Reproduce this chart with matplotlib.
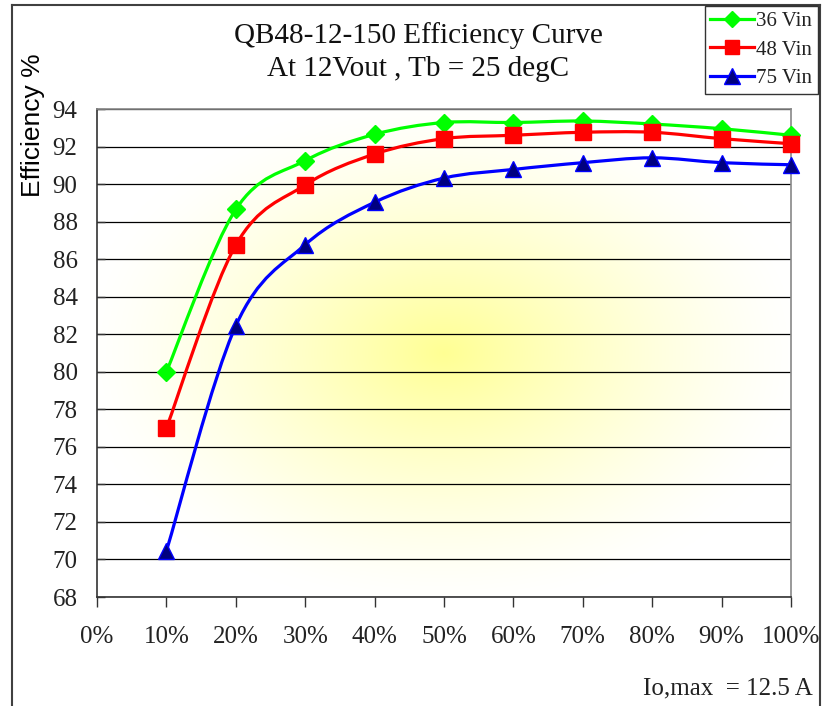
import numpy as np
import matplotlib
matplotlib.use("Agg")
import matplotlib.pyplot as plt
from matplotlib.path import Path
from matplotlib.patches import PathPatch
from matplotlib.lines import Line2D

# load (% of Io,max) and efficiency readings
load_pct = [10, 20, 30, 40, 50, 60, 70, 80, 90, 100]
eff_36vin = [80.0, 88.65, 91.25, 92.65, 93.28, 93.28, 93.36, 93.2, 92.95, 92.6]
eff_48vin = [77.0, 86.75, 89.95, 91.6, 92.42, 92.6, 92.76, 92.76, 92.42, 92.15]
eff_75vin = [70.45, 82.45, 86.77, 89.03, 90.32, 90.78, 91.14, 91.4, 91.14, 91.03]

series_labels = ['36 Vin', '48 Vin', '75 Vin']
x_ticks = list(range(0, 101, 10))
x_ticklabels = ['%d%%' % v for v in x_ticks]
y_ticks = list(range(68, 95, 2))

serif = 'Liberation Serif'
W, H = 823, 706


def smooth_path(xs, ys):
    # Excel style smoothed line: cubic bezier through the points
    pts = np.column_stack([xs, ys]).astype(float)
    n = len(pts)
    verts = [pts[0]]
    codes = [Path.MOVETO]
    for i in range(n - 1):
        p_prev = pts[i - 1] if i > 0 else pts[i]
        p_next = pts[i + 2] if i + 2 < n else pts[i + 1]
        c1 = pts[i] + (pts[i + 1] - p_prev) / 6.0
        c2 = pts[i + 1] - (p_next - pts[i]) / 6.0
        verts += [c1, c2, pts[i + 1]]
        codes += [Path.CURVE4] * 3
    return Path(verts, codes)


fig = plt.figure(figsize=(W / 100, H / 100), dpi=100)
fig.patch.set_facecolor('white')
ax = fig.add_axes([97 / W, 1 - 597 / H, (791 - 97) / W, (597 - 109) / H])

# radial yellow glow in plot area
gx, gy = np.meshgrid(np.linspace(-1, 1, 400), np.linspace(-1, 1, 400))
r = np.sqrt(gx ** 2 + gy ** 2) / 1.05
w = np.clip(1 - r, 0, 1) ** 1.35
img = np.ones((400, 400, 3))
img[..., 2] = 1 - w * 0.42
ax.imshow(img, extent=(0, 100, 68, 94), aspect='auto', zorder=-1,
          interpolation='bicubic', origin='lower')

ax.set_xlim(0, 100)
ax.set_ylim(68, 94)
ax.set_xticks(x_ticks)
ax.set_xticklabels(x_ticklabels)
ax.set_yticks(y_ticks)
ax.yaxis.grid(True, color='black', lw=0.9)
ax.set_axisbelow(True)

for lab in ax.get_xticklabels() + ax.get_yticklabels():
    lab.set_fontfamily(serif)
    lab.set_fontsize(18)
    lab.set_color('#222222')
ax.tick_params(axis='x', direction='out', length=7, width=1, color='#333333', pad=14)
ax.tick_params(axis='y', direction='in', length=6, width=1, color='#333333', pad=14)

ax.spines['top'].set_color('#888888')
ax.spines['right'].set_color('#888888')
ax.spines['left'].set_color('#333333')
ax.spines['bottom'].set_color('#333333')
for s in ax.spines.values():
    s.set_linewidth(1.2)

styles = [
    dict(color='#00ff00', marker='D', ms=9, mfc='#00ff00', mec='#00ff00'),
    dict(color='#ff0000', marker='s', ms=11, mfc='#ff0000', mec='#ff0000'),
    dict(color='#0000ff', marker='^', ms=12, mfc='#000080', mec='#0000ff'),
]
handles = []
for ys, st, lab in zip([eff_36vin, eff_48vin, eff_75vin], styles, series_labels):
    ax.add_patch(PathPatch(smooth_path(load_pct, ys), fill=False,
                           edgecolor=st['color'], lw=2.3, zorder=2,
                           capstyle='round', joinstyle='round'))
    ax.plot(load_pct, ys, ls='none', marker=st['marker'], ms=st['ms'],
            mfc=st['mfc'], mec=st['mec'], mew=1, zorder=3, clip_on=False)
    handles.append(Line2D([], [], color=st['color'], lw=2.3, marker=st['marker'],
                          ms=st['ms'] - 1, mfc=st['mfc'], mec=st['mec'], mew=1))

leg = fig.legend(handles, series_labels, loc='upper right',
                 bbox_to_anchor=(818 / W, 1 - 6 / H), bbox_transform=fig.transFigure,
                 prop={'family': serif, 'size': 15}, frameon=True, fancybox=False,
                 edgecolor='black', borderaxespad=0, handlelength=2.1,
                 handletextpad=0.1, labelspacing=0.42, borderpad=0.28)
leg.get_frame().set_linewidth(1.0)
for t in leg.get_texts():
    t.set_color('#222222')

# titles and notes
fig.text(418 / W, 1 - 43 / H, 'QB48-12-150 Efficiency Curve', ha='center',
         va='baseline', family=serif, size=21, color='#111111')
fig.text(418 / W, 1 - 76 / H, 'At 12Vout , Tb = 25 degC', ha='center',
         va='baseline', family=serif, size=21, color='#111111')
fig.text(33 / W, 1 - 197 / H, 'Efficiency %', rotation=90, ha='center',
         va='bottom', family='Liberation Sans', size=19, color='black')
fig.text(813 / W, 1 - 694 / H, 'Io,max  = 12.5 A', ha='right', va='baseline',
         family=serif, size=18, color='#222222')

# outer chart frame
frame_kw = dict(color='#404040', lw=1.5, transform=fig.transFigure)
fig.add_artist(Line2D([12 / W, 12 / W], [0, 1 - 5 / H], **frame_kw))
fig.add_artist(Line2D([12 / W, 820 / W], [1 - 5 / H, 1 - 5 / H], **frame_kw))
fig.add_artist(Line2D([820 / W, 820 / W], [0, 1 - 5 / H], **frame_kw))

fig.savefig('out.png', dpi=100)
